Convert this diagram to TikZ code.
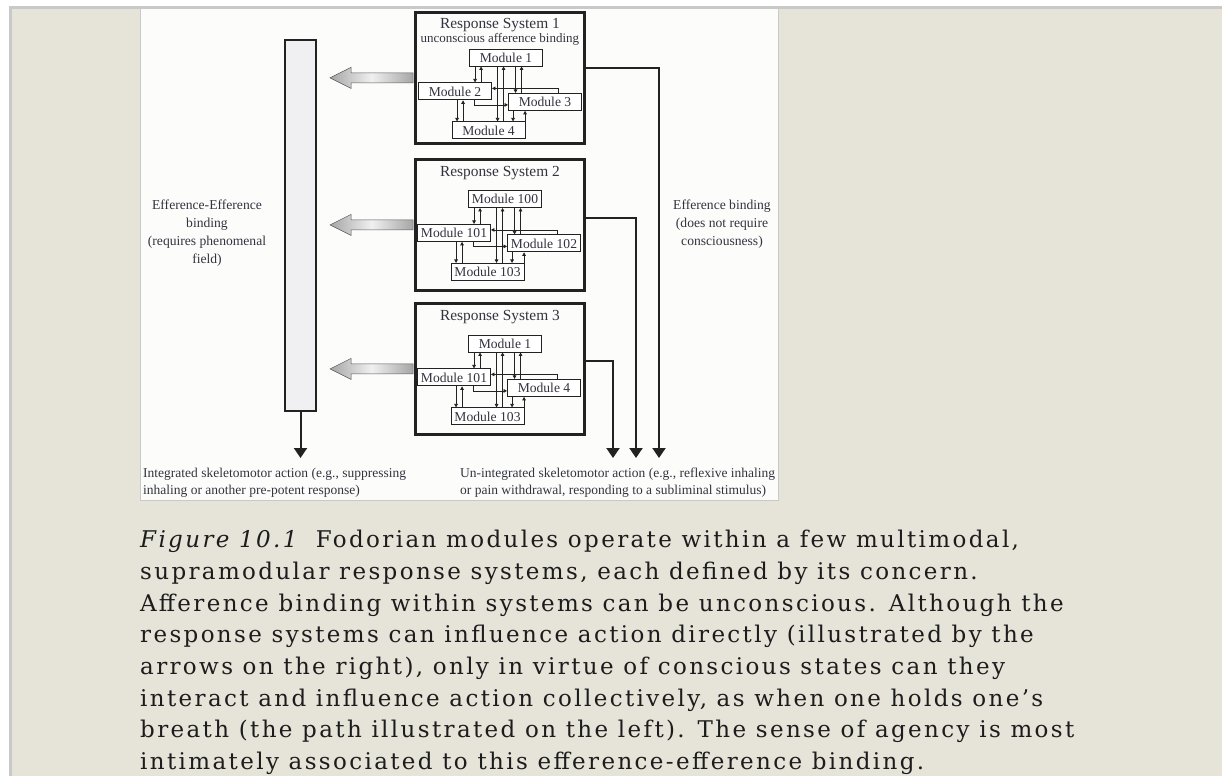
\documentclass[tikz,border=0pt]{standalone}
\usepackage{fontspec}
\setmainfont{Liberation Serif}
\newfontfamily\capfont[LetterSpace=10.3]{DejaVu Serif}
\usepackage{xcolor}
\usetikzlibrary{arrows.meta,positioning,calc}
\definecolor{ink}{HTML}{222222}
\definecolor{figText}{HTML}{33333F}
\definecolor{capText}{HTML}{1C1C1C}
\definecolor{page}{HTML}{E6E3D9}
\definecolor{strip}{HTML}{C9C9C9}
\definecolor{panel}{HTML}{FCFDFB}
\definecolor{barFill}{HTML}{F0F0F3}

\begin{document}
\begin{tikzpicture}[x=1pt,y=-1pt,
    sysBox/.style={draw=ink,line width=1.8pt,minimum width=170pt,minimum height=132pt,
                   anchor=north west,inner sep=0pt},
    sysInner/.style={draw=ink,line width=0.8pt},
    modBox/.style={draw=ink,fill=white,line width=0.9pt,minimum width=73pt,
                   minimum height=17pt,inner sep=0pt,
                   font=\fontsize{13.6}{14}\selectfont\color{figText}},
    modArrow/.style={-{Triangle[length=3.5pt,width=3.6pt]},line width=0.75pt,draw=ink},
    outArrow/.style={-{Triangle[length=10pt,width=13pt]},line width=2pt,draw=ink},
    titleText/.style={inner sep=0pt,font=\fontsize{15.4}{16}\selectfont\color{figText}},
    noteText/.style={align=center,inner sep=0pt,font=\fontsize{13.6}{18}\selectfont\color{figText}},
    actionText/.style={align=left,anchor=west,inner sep=0pt,
                       font=\fontsize{13.5}{17}\selectfont\color{figText}},
    grayArrow/.style={left color=gray!70,right color=gray!70,middle color=gray!12,
                      draw=gray!70!black,line width=0.5pt}]
  % page and figure panel
  \useasboundingbox (0,0) rectangle (1222,776);
  \fill[white] (0,0) rectangle (1222,776);
  \fill[strip] (9,6) rectangle (1222,776);
  \fill[page] (12,9) rectangle (1222,776);
  \fill[panel] (140,9) rectangle (779,501);
  \draw[strip,line width=1.5pt] (140.5,9) -- (140.5,500.5) -- (778.5,500.5) -- (778.5,9);

  % response systems
  \node[sysBox] (rs1) at (414,11) {};
  \node[titleText,below=7.5pt of rs1.north] (rs1t) {Response System 1};
  \node[titleText,below=0.5pt of rs1t,font=\fontsize{13}{14}\selectfont\color{figText}] (rs1s)
    {unconscious afference binding};
  \node[modBox] (m1-a) at ($(rs1.north west)+(92,46.5)$) {Module 1};
  \node[modBox,below=16pt of m1-a,xshift=-51pt] (m1-b) {Module 2};
  \node[modBox,below=26.5pt of m1-a,xshift=39pt] (m1-c) {Module 3};
  \node[modBox,below=55pt of m1-a,xshift=-17.5pt] (m1-d) {Module 4};

  \node[sysBox] (rs2) at (414,158) {};
  \node[titleText,below=8pt of rs2.north] (rs2t) {Response System 2};
  \node[modBox] (m2-a) at ($(rs2.north west)+(91,41)$) {Module 100};
  \node[modBox,below=16pt of m2-a,xshift=-51pt] (m2-b) {Module 101};
  \node[modBox,below=26.5pt of m2-a,xshift=39pt] (m2-c) {Module 102};
  \node[modBox,below=55pt of m2-a,xshift=-17.5pt] (m2-d) {Module 103};

  \node[sysBox] (rs3) at (414,302) {};
  \node[titleText,below=8pt of rs3.north] (rs3t) {Response System 3};
  \node[modBox] (m3-a) at ($(rs3.north west)+(91,41.5)$) {Module 1};
  \node[modBox,below=16pt of m3-a,xshift=-51pt] (m3-b) {Module 101};
  \node[modBox,below=26.5pt of m3-a,xshift=39pt] (m3-c) {Module 4};
  \node[modBox,below=55pt of m3-a,xshift=-17.5pt] (m3-d) {Module 103};

  % efference-efference bar
  \node[draw=ink,line width=1.8pt,fill=barFill,minimum width=31.2pt,
        minimum height=371.2pt,inner sep=0pt] (ee) at (300.5,225.5) {};

  \foreach \s in {1,2,3}{
    % thin inner frame of the system box
    \draw[sysInner] ([shift={(2.6pt,-2.6pt)}]rs\s.north west) rectangle ([shift={(-2.6pt,2.6pt)}]rs\s.south east);
    % module wiring
    \draw[modArrow] ([xshift=6pt]m\s-a.south west) -- ([xshift=6pt]m\s-a.south west |- m\s-b.north);
    \draw[modArrow] ([xshift=12pt]m\s-a.south west |- m\s-b.north) -- ([xshift=12pt]m\s-a.south west);
    \draw[modArrow] ([xshift=39pt]m\s-b.south west) -- ([xshift=39pt]m\s-b.south west |- m\s-d.north);
    \draw[modArrow] ([xshift=45pt]m\s-b.south west |- m\s-d.north) -- ([xshift=45pt]m\s-b.south west);
    \draw[modArrow] ([xshift=28.5pt]m\s-a.south west) -- ([xshift=28.5pt]m\s-a.south west |- m\s-d.north);
    \draw[modArrow] ([xshift=34.5pt]m\s-a.south west |- m\s-d.north) -- ([xshift=34.5pt]m\s-a.south west);
    \draw[modArrow] ([xshift=46.5pt]m\s-a.south west) -- ([xshift=46.5pt]m\s-a.south west |- m\s-c.north);
    \draw[modArrow] ([xshift=52.5pt]m\s-a.south west |- m\s-c.north) -- ([xshift=52.5pt]m\s-a.south west);
    \draw[modArrow] ([xshift=5pt]m\s-c.south west) -- ([xshift=5pt]m\s-c.south west |- m\s-d.north);
    \draw[modArrow] ([xshift=17pt]m\s-c.south west |- m\s-d.north) -- ([xshift=17pt]m\s-c.south west);
    \draw[modArrow] ([xshift=50pt]m\s-c.north west) |- ([yshift=3pt]m\s-b.east);
    \draw[modArrow] ([xshift=56pt]m\s-b.south west) |- ([yshift=-3pt]m\s-c.west);
    % grey arrow into the bar
    \shadedraw[grayArrow] ($(rs\s.west)+(-1,-5)$) -- ($(ee.east|-rs\s.west)+(34,-5)$)
      -- ++(0,-5.5) -- ($(ee.east|-rs\s.west)+(13,0)$) -- ($(ee.east|-rs\s.west)+(34,10.5)$)
      -- ++(0,-5.5) -- ($(rs\s.west)+(-1,5)$) -- cycle;
  }

  % actions
  \coordinate (eeOut) at (300.5,458);
  \coordinate (out1) at (659,458);
  \coordinate (out2) at (636,458);
  \coordinate (out3) at (613,458);
  \draw[outArrow] (ee.south) -- (eeOut);
  \draw[outArrow] ([yshift=10pt]rs1.east) -| (out1);
  \draw[outArrow] ([yshift=7pt]rs2.east) -| (out2);
  \draw[outArrow] ([yshift=8pt]rs3.east) -| (out3);

  \node[noteText] (eeLabel) at (207,233) {Efference-Efference\\binding\\(requires phenomenal\\field)};
  \node[noteText] (efLabel) at (722,224) {Efference binding\\(does not require\\consciousness)};
  \node[actionText] (integ) at (143,482.4)
    {Integrated skeletomotor action (e.g., suppressing\\inhaling or another pre-potent response)};
  \node[actionText] (uninteg) at (460,482.4)
    {Un-integrated skeletomotor action (e.g., reflexive inhaling\\or pain withdrawal, responding to a subliminal stimulus)};

  % caption
  \node[anchor=north west,inner sep=0pt,align=left,
        font=\capfont\fontsize{23}{31.7}\selectfont\color{capText}] (caption) at (140,530)
    {\textit{Figure 10.1}\hspace{16pt}Fodorian modules operate within a few multimodal,\\
     supramodular response systems, each defined by its concern.\\
     Afference binding within systems can be unconscious. Although the\\
     response systems can influence action directly (illustrated by the\\
     arrows on the right), only in virtue of conscious states can they\\
     interact and influence action collectively, as when one holds one’s\\
     breath (the path illustrated on the left). The sense of agency is most\\
     intimately associated to this efference-efference binding.};
\end{tikzpicture}
\end{document}
